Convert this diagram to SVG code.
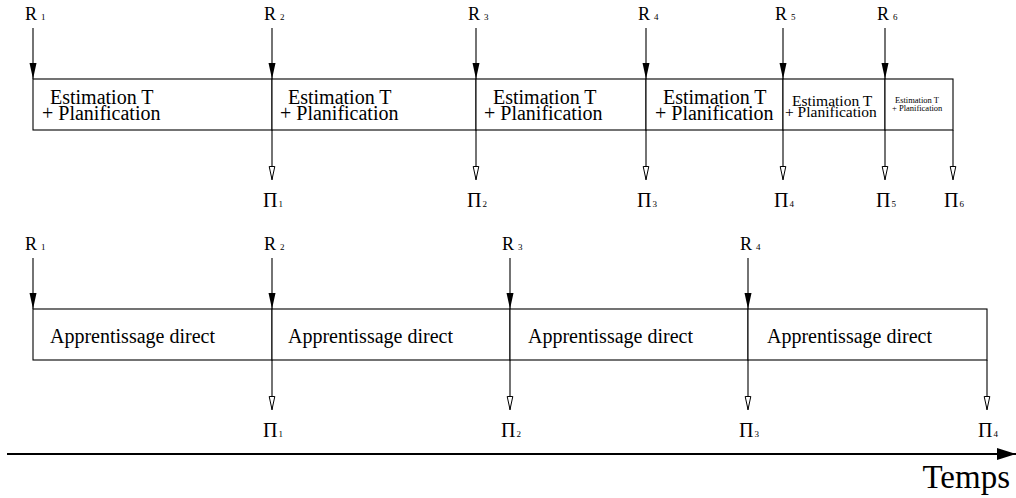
<svg xmlns="http://www.w3.org/2000/svg" width="1016" height="498" viewBox="0 0 1016 498">
<style>
text{font-family:"Liberation Serif","Times New Roman",serif;fill:#000}
.cell{fill:#fff;stroke:#000;stroke-width:1.1}
.t20{font-size:20px}
.lbl{font-size:18px}
.pi{font-size:20px}
.sub{font-size:9px}
.con{stroke:#000;stroke-width:1.1;fill:none}
</style>
<defs>
<marker id="fill" markerUnits="userSpaceOnUse" markerWidth="16" markerHeight="8" refX="16" refY="4" orient="auto">
<path d="M0,0.5 L16,4 L0,7.5 z" fill="#000"/>
</marker>
<marker id="open" markerUnits="userSpaceOnUse" markerWidth="15" markerHeight="8" refX="14" refY="4" orient="auto">
<path d="M0.5,1.2 L13.5,4 L0.5,6.8 z" fill="#fff" stroke="#000" stroke-width="1"/>
</marker>
<marker id="axis" markerUnits="userSpaceOnUse" markerWidth="20" markerHeight="14" refX="19" refY="7" orient="auto">
<path d="M0,1 L19,7 L0,13 z" fill="#000"/>
</marker>
</defs>

<!-- Top row cells -->
<g id="top-cell-1"><rect class="cell" x="33" y="79" width="239" height="51"/>
<text class="t20"><tspan x="50" y="104">Estimation T</tspan><tspan x="42" y="120">+ Planification</tspan></text></g>
<g id="top-cell-2"><rect class="cell" x="272" y="79" width="204" height="51"/>
<text class="t20"><tspan x="288" y="104">Estimation T</tspan><tspan x="280" y="120">+ Planification</tspan></text></g>
<g id="top-cell-3"><rect class="cell" x="476" y="79" width="170" height="51"/>
<text class="t20"><tspan x="493" y="104">Estimation T</tspan><tspan x="484" y="120">+ Planification</tspan></text></g>
<g id="top-cell-4"><rect class="cell" x="646" y="79" width="137" height="51"/>
<text class="t20"><tspan x="663" y="104">Estimation T</tspan><tspan x="655" y="120">+ Planification</tspan></text></g>
<g id="top-cell-5"><rect class="cell" x="783" y="79" width="102" height="51"/>
<text font-size="15.5"><tspan x="792" y="106">Estimation T</tspan><tspan x="785" y="117">+ Planification</tspan></text></g>
<g id="top-cell-6"><rect class="cell" x="885" y="79" width="68" height="51"/>
<text font-size="8.5"><tspan x="895" y="103">Estimation T</tspan><tspan x="892" y="111">+ Planification</tspan></text></g>

<!-- Bottom row cells -->
<g id="bot-cell-1"><rect class="cell" x="33" y="309" width="239" height="51"/>
<text class="t20" x="50" y="343">Apprentissage direct</text></g>
<g id="bot-cell-2"><rect class="cell" x="272" y="309" width="238" height="51"/>
<text class="t20" x="288" y="343">Apprentissage direct</text></g>
<g id="bot-cell-3"><rect class="cell" x="510" y="309" width="238" height="51"/>
<text class="t20" x="528" y="343">Apprentissage direct</text></g>
<g id="bot-cell-4"><rect class="cell" x="748" y="309" width="239" height="51"/>
<text class="t20" x="767" y="343">Apprentissage direct</text></g>

<!-- Connectors -->
<g id="connectors" class="con">
<line x1="33" y1="28" x2="33" y2="79" marker-end="url(#fill)"/>
<line x1="272" y1="28" x2="272" y2="79" marker-end="url(#fill)"/>
<line x1="476" y1="28" x2="476" y2="79" marker-end="url(#fill)"/>
<line x1="646" y1="28" x2="646" y2="79" marker-end="url(#fill)"/>
<line x1="783" y1="28" x2="783" y2="79" marker-end="url(#fill)"/>
<line x1="885" y1="28" x2="885" y2="79" marker-end="url(#fill)"/>
<line x1="272" y1="130" x2="272" y2="180" marker-end="url(#open)"/>
<line x1="476" y1="130" x2="476" y2="180" marker-end="url(#open)"/>
<line x1="646" y1="130" x2="646" y2="180" marker-end="url(#open)"/>
<line x1="783" y1="130" x2="783" y2="180" marker-end="url(#open)"/>
<line x1="885" y1="130" x2="885" y2="180" marker-end="url(#open)"/>
<line x1="953" y1="130" x2="953" y2="180" marker-end="url(#open)"/>
<line x1="33" y1="258" x2="33" y2="309" marker-end="url(#fill)"/>
<line x1="272" y1="258" x2="272" y2="309" marker-end="url(#fill)"/>
<line x1="510" y1="258" x2="510" y2="309" marker-end="url(#fill)"/>
<line x1="748" y1="258" x2="748" y2="309" marker-end="url(#fill)"/>
<line x1="272" y1="360" x2="272" y2="410" marker-end="url(#open)"/>
<line x1="510" y1="360" x2="510" y2="410" marker-end="url(#open)"/>
<line x1="748" y1="360" x2="748" y2="410" marker-end="url(#open)"/>
<line x1="987" y1="360" x2="987" y2="410" marker-end="url(#open)"/>
<line x1="7" y1="454" x2="1016" y2="454" stroke-width="2.2" marker-end="url(#axis)"/>
</g>

<!-- Labels -->
<g id="labels-top">
<text class="lbl" x="25" y="20">R<tspan class="sub" dx="4">1</tspan></text>
<text class="lbl" x="264" y="20">R<tspan class="sub" dx="4">2</tspan></text>
<text class="lbl" x="468" y="20">R<tspan class="sub" dx="4">3</tspan></text>
<text class="lbl" x="638" y="20">R<tspan class="sub" dx="4">4</tspan></text>
<text class="lbl" x="775" y="20">R<tspan class="sub" dx="4">5</tspan></text>
<text class="lbl" x="877" y="20">R<tspan class="sub" dx="4">6</tspan></text>
<text class="pi" x="263" y="207">Π<tspan class="sub" dx="1">1</tspan></text>
<text class="pi" x="467" y="207">Π<tspan class="sub" dx="1">2</tspan></text>
<text class="pi" x="637" y="207">Π<tspan class="sub" dx="1">3</tspan></text>
<text class="pi" x="774" y="207">Π<tspan class="sub" dx="1">4</tspan></text>
<text class="pi" x="876" y="207">Π<tspan class="sub" dx="1">5</tspan></text>
<text class="pi" x="944" y="207">Π<tspan class="sub" dx="1">6</tspan></text>
</g>
<g id="labels-bottom">
<text class="lbl" x="25" y="250">R<tspan class="sub" dx="4">1</tspan></text>
<text class="lbl" x="264" y="250">R<tspan class="sub" dx="4">2</tspan></text>
<text class="lbl" x="502" y="250">R<tspan class="sub" dx="4">3</tspan></text>
<text class="lbl" x="740" y="250">R<tspan class="sub" dx="4">4</tspan></text>
<text class="pi" x="263" y="437">Π<tspan class="sub" dx="1">1</tspan></text>
<text class="pi" x="501" y="437">Π<tspan class="sub" dx="1">2</tspan></text>
<text class="pi" x="739" y="437">Π<tspan class="sub" dx="1">3</tspan></text>
<text class="pi" x="978" y="437">Π<tspan class="sub" dx="1">4</tspan></text>
</g>
<g id="axis-label">
<text x="1010" y="488" font-size="33" text-anchor="end">Temps</text>
</g>
</svg>
